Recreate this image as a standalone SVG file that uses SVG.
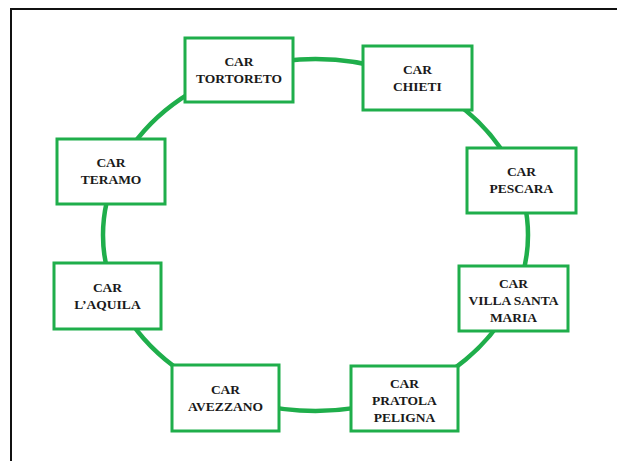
<svg xmlns="http://www.w3.org/2000/svg" width="617" height="461" viewBox="0 0 617 461">
<style>
.box{fill:#fff;stroke:#1fae4b;stroke-width:3}
.ring{fill:none;stroke:#1fae4b;stroke-width:4.5}
.t{font-family:"Liberation Serif","Times New Roman",serif;font-weight:bold;font-size:13.5px;fill:#1a1a1a;text-anchor:middle}
</style>
<rect x="0" y="0" width="617" height="461" fill="#fff"/>
<rect x="11" y="9" width="630" height="480" fill="none" stroke="#111" stroke-width="2"/>
<g id="connectors">
<ellipse class="ring" cx="315.5" cy="235" rx="212.5" ry="176"/>
</g>
<g id="tortoreto"><rect class="box" x="185" y="38" width="108" height="64"/><text class="t" x="239" y="66">CAR</text><text class="t" x="239" y="83">TORTORETO</text></g>
<g id="chieti"><rect class="box" x="363" y="46" width="109" height="64"/><text class="t" x="417.5" y="74">CAR</text><text class="t" x="417.5" y="91">CHIETI</text></g>
<g id="pescara"><rect class="box" x="467" y="148" width="109" height="65"/><text class="t" x="521.5" y="176">CAR</text><text class="t" x="521.5" y="193">PESCARA</text></g>
<g id="villa"><rect class="box" x="459" y="266" width="109" height="65"/><text class="t" x="513.5" y="287.5">CAR</text><text class="t" x="513.5" y="304.5">VILLA SANTA</text><text class="t" x="513.5" y="321.5">MARIA</text></g>
<g id="pratola"><rect class="box" x="351" y="366" width="107" height="65"/><text class="t" x="404.5" y="387.5">CAR</text><text class="t" x="404.5" y="404.5">PRATOLA</text><text class="t" x="404.5" y="421.5">PELIGNA</text></g>
<g id="avezzano"><rect class="box" x="172" y="365" width="107" height="66"/><text class="t" x="225.5" y="394">CAR</text><text class="t" x="225.5" y="411">AVEZZANO</text></g>
<g id="aquila"><rect class="box" x="54" y="263" width="107" height="66"/><text class="t" x="107.5" y="291.5">CAR</text><text class="t" x="107.5" y="308.5">L’AQUILA</text></g>
<g id="teramo"><rect class="box" x="57" y="139" width="108" height="65"/><text class="t" x="111" y="167">CAR</text><text class="t" x="111" y="184">TERAMO</text></g>
</svg>
